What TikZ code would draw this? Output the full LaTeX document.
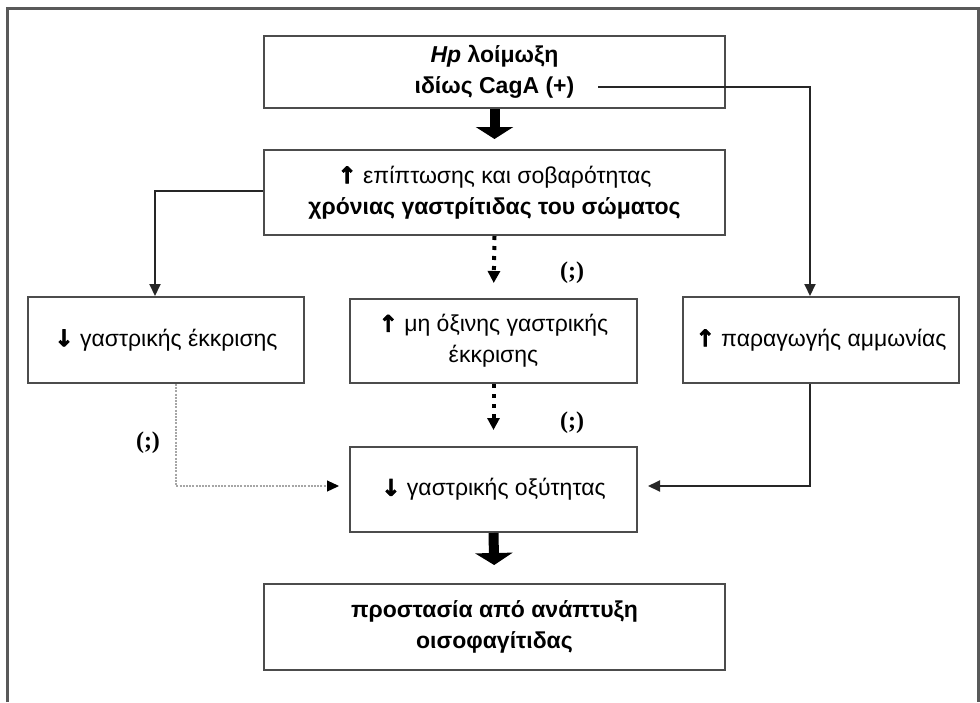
\documentclass[tikz,border=0pt]{standalone}
\usepackage{fontspec}
\setmainfont{Liberation Sans}
\newfontfamily\serifqm{Liberation Serif}
\newfontfamily\arrowfont[FakeBold = 3]{DejaVu Sans}
\usetikzlibrary{arrows.meta, positioning}
\tikzset{
	box/.style = {draw = black!70, line width = 1pt, align = center, inner sep = 0pt, font = \fontsize{11.5}{15.5}\selectfont},
	bigarrow/.style = {black, line width = 5pt, -{Triangle[width = 18.5pt, length = 6pt]}},
	dotarrow/.style = {black, line width = 2pt, dash pattern = on 2pt off 3pt, -{Triangle[width = 6pt, length = 6pt]}},
	solidarrow/.style = {black!85, line width = 1pt, -{Triangle[width = 5.5pt, length = 6pt]}},
	faintarrow/.style = {black!35, line width = 0.6pt, dash pattern = on 1pt off 0.6pt, -{Triangle[width = 5.5pt, length = 6pt, black]}},
	qmark/.style = {font = \serifqm\bfseries\fontsize{12}{14}\selectfont}
}
\newcommand{\up}{{\arrowfont\bfseries ↑}}
\newcommand{\down}{{\arrowfont\bfseries ↓}}

\begin{document}
\begin{tikzpicture}[x = 0.5pt, y = -0.5pt]
	\useasboundingbox (0, 0) rectangle (980, 702);
	\draw[black!65, line width = 1.5pt] (7, 702) -- (7, 8) -- (978, 8) -- (978, 702);

	\node[box, minimum width = 230.5pt, minimum height = 36pt] (hp) at (494.5, 72) {\textbf{\textit{Hp} λοίμωξη}\\ \textbf{ιδίως CagA (+)}};
	\node[box, minimum width = 230.5pt, minimum height = 42.5pt] (inc) at (494.5, 192.5) {\up\ επίπτωσης και σοβαρότητας\\ \textbf{χρόνιας γαστρίτιδας του σώματος}};
	\node[box, minimum width = 138pt, minimum height = 43pt] (sec) at (166, 340) {\down\ γαστρικής έκκρισης};
	\node[box, minimum width = 143.5pt, minimum height = 42pt] (nonacid) at (493.5, 341) {\up\ μη όξινης γαστρικής\\ έκκρισης};
	\node[box, minimum width = 138pt, minimum height = 43pt] (amm) at (821, 340) {\up\ παραγωγής αμμωνίας};
	\node[box, minimum width = 143.5pt, minimum height = 42.5pt] (acid) at (493.5, 489.5) {\down\ γαστρικής οξύτητας};
	\node[box, minimum width = 230.5pt, minimum height = 43pt] (prot) at (494.5, 627) {\textbf{προστασία από ανάπτυξη}\\ \textbf{οισοφαγίτιδας}};

	\coordinate (cagA) at (598, 87);
	\coordinate (bend) at (176, 486);

	\node[qmark] (q1) at (572, 273) {(;)};
	\node[qmark] (q2) at (572, 423) {(;)};
	\node[qmark] (q3) at (148, 443) {(;)};

	\draw[bigarrow, shorten >= 5pt] (hp.south) -- (inc.north);
	\draw[bigarrow, shorten >= 9pt] (acid.south) -- (prot.north);
	\draw[dotarrow, shorten >= 7.5pt] (inc.south) -- (nonacid.north);
	\draw[dotarrow, shorten >= 8pt] (nonacid.south) -- (acid.north);
	\draw[solidarrow] ([yshift = 1pt]inc.west) -| ([xshift = -5.5pt]sec.north);
	\draw[solidarrow] (cagA) -| ([xshift = -5.5pt]amm.north);
	\draw[solidarrow, shorten >= 5pt] ([xshift = -5.5pt]amm.south) |- ([yshift = 1.75pt]acid.east);
	\draw[faintarrow, shorten >= 5pt] ([xshift = 5pt]sec.south) -- (bend) -- (bend -| acid.west);
\end{tikzpicture}
\end{document}
